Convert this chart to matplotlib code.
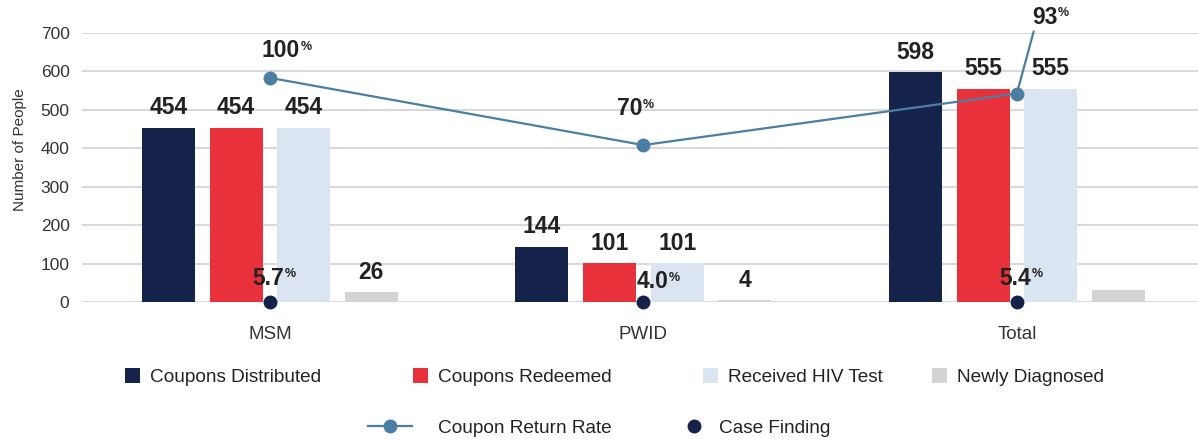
import numpy as np
from matplotlib import pyplot as plt
from matplotlib.patches import Patch
from matplotlib.lines import Line2D

plt.rcParams['font.family'] = ['Liberation Sans', 'DejaVu Sans']

# data
categories = ["MSM", "PWID", "Total"]
distributed = [454, 144, 598]
redeemed = [454, 101, 555]
hiv_tested = [454, 101, 555]
newly_diagnosed = [26, 4, 30]
newly_labels = ["26", "4", ""]
return_rate = [100, 70, 93]          # %
case_finding = [5.7, 4.0, 5.4]       # %

series_names = ["Coupons Distributed", "Coupons Redeemed", "Received HIV Test", "Newly Diagnosed"]
colors = ["#15234b", "#e8313a", "#dae5f1", "#d3d3d3"]
line_color = "#4b7ea3"
dot_color = "#15234b"
text_color = "#222222"

W, H = 1198, 440
fig = plt.figure(figsize=(W / 100, H / 100), dpi=100)
ax = fig.add_axes([82 / W, 1 - 302 / H, 1116 / W, 269 / H])

x = np.arange(len(categories))
bar_w = 0.142
pitch = 0.181
all_series = [distributed, redeemed, hiv_tested, newly_diagnosed]
for i, (vals, col) in enumerate(zip(all_series, colors)):
    bars = ax.bar(x + (i - 1.5) * pitch, vals, width=bar_w, color=col, zorder=2)
    labels = newly_labels if i == 3 else [str(v) for v in vals]
    ax.bar_label(bars, labels=labels, padding=6, fontsize=16.5, fontweight='bold',
                 color=text_color)

ax.set_xlim(-0.503, 2.485)
ax.set_ylim(0, 700)
ax.set_yticks(range(0, 701, 100))
ax.set_xticks(x)
ax.set_xticklabels(categories, fontsize=13.5, color="#333333")
ax.tick_params(axis='y', labelsize=12.5, colors="#333333", length=0, pad=9)
ax.tick_params(axis='x', length=0, pad=17)
ax.grid(axis='y', color="#d9d9d9", linewidth=1.5, zorder=0)
ax.set_axisbelow(True)
for s in ax.spines.values():
    s.set_visible(False)
ax.set_ylabel("Number of People", fontsize=11, color="#333333")
ax.yaxis.set_label_coords(-0.049, 0.565)

# secondary scale for the rates
ax2 = ax.twinx()
ax2.set_ylim(0, 120)
ax2.axis('off')
ax2.plot(x, return_rate, color=line_color, linewidth=1.6, marker='o', markersize=9, zorder=3)
case_y = np.zeros(len(case_finding))
ax2.plot(x, case_y, linestyle='none', marker='o', markersize=9, color=dot_color,
         zorder=4, clip_on=False)


def pct_label(axis, xv, yv, txt, dx, dy, leader=False):
    kw = {}
    if leader:
        kw['arrowprops'] = dict(arrowstyle='-', color=line_color, lw=1.6,
                                shrinkA=0, shrinkB=0, relpos=(0.1, 0.0))
    t = axis.annotate(txt, xy=(xv, yv), xytext=(dx, dy), textcoords='offset points',
                      ha='center', va='center', fontsize=16.5, fontweight='bold',
                      color=text_color, annotation_clip=False, zorder=5, **kw)
    axis.annotate('%', xy=(1, 1), xycoords=t, xytext=(0.5, -1), textcoords='offset points',
                  ha='left', va='top', fontsize=9, fontweight='bold', color=text_color)


rate_offsets = [(8, 19.5), (-10, 26), (20, 55)]
for xi, r, (dx, dy) in zip(x, return_rate, rate_offsets):
    pct_label(ax2, xi, r, f"{r}", dx, dy, leader=(xi == 2))

case_offsets = [(-1, 17), (6.5, 14.5), (-1, 17)]
for xi, c, yv, (dx, dy) in zip(x, case_finding, case_y, case_offsets):
    pct_label(ax2, xi, yv, f"{c:.1f}", dx, dy)


# legend entries placed one by one
def legend_item(handle, label, x_px, y_px, hl, hh, pad):
    fig.legend(handles=[handle], labels=[label], loc='center left',
               bbox_to_anchor=(x_px / W, 1 - y_px / H), frameon=False,
               borderpad=0, borderaxespad=0, handlelength=hl, handleheight=hh,
               handletextpad=pad, fontsize=13.7, labelcolor="#222222")


row1 = [125, 413, 703, 932]
for name, col, xp in zip(series_names, colors, row1):
    legend_item(Patch(facecolor=col), name, xp, 377, 0.8, 0.8, 0.5)

legend_item(Line2D([], [], color=line_color, linewidth=1.6, marker='o', markersize=9),
            "Coupon Return Rate", 368, 428, 2.3, 0.8, 1.4)
legend_item(Line2D([], [], linestyle='none', color=dot_color, marker='o', markersize=9),
            "Case Finding", 686, 428, 0.8, 0.8, 0.95)

fig.savefig("out.png", dpi=100)
